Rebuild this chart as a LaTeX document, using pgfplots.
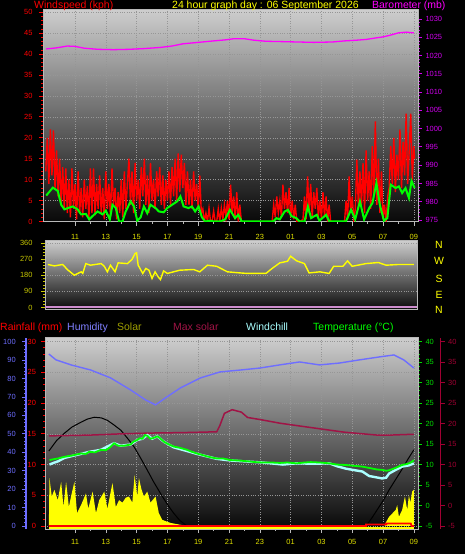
\documentclass[border=0pt]{standalone}
\usepackage{pgfplots}
\pgfplotsset{compat=1.18}
\usepackage{fontspec}
\setmainfont{Liberation Sans}
\definecolor{wred}{RGB}{255,0,0}
\definecolor{wgreen}{RGB}{0,255,0}
\definecolor{wmag}{RGB}{255,0,255}
\definecolor{wmagtick}{RGB}{210,0,240}
\definecolor{wyel}{RGB}{255,255,0}
\definecolor{xlab}{RGB}{225,225,0}
\definecolor{dirlab}{RGB}{200,200,0}
\definecolor{humblue}{RGB}{110,110,255}
\definecolor{humlab}{RGB}{128,128,255}
\definecolor{solarlab}{RGB}{160,160,0}
\definecolor{maxsol}{RGB}{160,20,70}
\definecolor{maroonax}{RGB}{160,0,50}
\definecolor{chill}{RGB}{170,255,255}
\definecolor{tgreen}{RGB}{0,220,0}
\definecolor{framegray}{RGB}{185,185,185}
\definecolor{gridgray}{RGB}{150,150,150}
\definecolor{lav}{RGB}{205,140,205}
\definecolor{bgtop}{RGB}{205,205,205}
\definecolor{bgbot}{RGB}{8,8,8}
\pgfplotsset{
  base/.style={scale only axis, anchor=south west,
    /pgf/number format/assume math mode=true,
    /pgf/number format/1000 sep={},
    tick label style={font=\fontsize{7.5}{8}\selectfont},
    tick align=outside,
    major tick length=4bp, minor tick length=2bp,
    axis line style={draw=framegray, line width=1bp}},
  xhours/.style={xtick={11,13,...,33}, xticklabels={11,13,15,17,19,21,23,01,03,05,07,09},
    minor x tick num=1, xtick pos=bottom, x tick style={framegray, line width=0.6bp}},
  bg/.style={axis background/.style={shade, top color=bgtop, bottom color=bgbot}},
  grids/.style={grid style={dotted, gridgray, line width=0.4bp}},
}
\begin{document}
\begin{tikzpicture}
\useasboundingbox (0,0) rectangle (465bp,554bp);
\fill[black] (0,0) rectangle (465bp,554bp);
% ---------------- top panel: wind speed ----------------
\begin{axis}[base, bg, grids, xhours, at={(43bp,332bp)}, width=375bp, height=212bp,
  xmin=8.92, xmax=33.27, ymin=-0.12, ymax=50.55,
  xmajorgrids, ymajorgrids,
  xticklabel style={text=xlab, yshift=-5bp},
  ytick={0,5,...,50}, minor y tick num=4, ytick pos=left,
  y tick style={wred, line width=0.8bp}, yticklabel style={text=wred, xshift=-3bp}]
\addplot[wred, line width=1.4bp] coordinates {
(9.1,12) (9.2,20) (9.3,9) (9.4,22) (9.5,11) (9.6,21.8) (9.7,8) (9.8,17)
(9.9,6) (10.0,15) (10.1,4) (10.2,13) (10.3,3)
(10.4,12.7) (10.5,2) (10.6,10) (10.7,1) (10.8,12.7) (10.9,3) (11.0,9)
(11.1,0.5) (11.2,12) (11.3,2) (11.4,8) (11.5,1) (11.6,10) (11.7,3) (11.8,8.5) (11.9,0.5) (12.0,12.7) (12.1,2) (12.2,12.7) (12.3,1.5) (12.4,9) (12.5,3)
(12.6,11) (12.7,2) (12.8,8) (12.9,0.5) (13.0,12) (13.1,3) (13.2,9) (13.3,1) (13.4,12.7) (13.5,4) (13.6,8) (13.7,0.5) (13.8,7) (13.9,2) (14.0,10) (14.1,1) (14.2,12) (14.3,3) (14.4,9) (14.5,15)
(14.6,4) (14.7,12) (14.8,2) (14.9,14) (15.0,5) (15.1,10) (15.2,3) (15.3,13) (15.4,6) (15.5,15) (15.6,4) (15.7,11) (15.8,2) (15.9,14) (16.0,5) (16.1,10) (16.2,3) (16.3,12) (16.4,6) (16.5,13) (16.6,4) (16.7,11) (16.8,3) (16.9,10) (17.0,5) (17.1,12) (17.2,4)
(17.3,13) (17.4,6) (17.5,15) (17.6,5) (17.7,16.3) (17.8,7) (17.9,16) (18.0,8) (18.1,14) (18.2,4) (18.3,12)
(18.4,4) (18.5,10) (18.6,3) (18.7,12) (18.8,5) (18.9,9) (19.0,3) (19.1,11) (19.2,2)
(19.3,3) (19.4,0) (19.5,2) (19.6,0) (19.7,3.2) (19.8,0) (19.9,0) (20.0,2.5) (20.1,0) (20.2,0) (20.3,3) (20.4,0) (20.5,3.2) (20.6,0.5) (20.7,4) (20.8,1) (20.9,5) (21.0,0.5)
(21.1,8.8) (21.2,2) (21.3,6) (21.4,0.5) (21.5,7) (21.6,0) (21.7,4) (21.8,0) (23.8,0)
(23.9,4) (24.0,1) (24.1,6) (24.2,2) (24.3,5) (24.4,1) (24.5,8.8) (24.6,3) (24.7,7) (24.8,2) (24.9,8) (25.0,1) (25.1,5) (25.2,0.5) (25.3,4) (25.4,0)
(25.6,0) (25.8,0.5)
(25.9,6) (26.0,0.5) (26.1,10.8) (26.2,2) (26.3,9) (26.4,1) (26.5,7) (26.6,3) (26.7,8)
(26.8,1) (26.9,5) (27.0,0.5) (27.1,7) (27.2,1) (27.3,6) (27.4,0) (27.5,4) (27.6,0) (28.5,0)
(28.6,5) (28.7,0.5) (28.8,10.8) (28.9,2) (29.0,6) (29.1,0.5) (29.2,3)
(29.3,14.8) (29.4,3) (29.5,12) (29.6,4)
(29.7,14) (29.8,2) (29.9,17) (30.0,5) (30.1,12) (30.2,3) (30.3,18) (30.4,6) (30.5,23.9) (30.6,4) (30.7,15) (30.8,2) (30.9,12)
(31.0,0.5) (31.1,4) (31.2,0) (31.3,6)
(31.4,8) (31.5,18) (31.6,9) (31.7,20) (31.8,7) (31.9,16) (32.0,10) (32.1,22) (32.2,8) (32.3,19) (32.4,11) (32.5,25.8) (32.6,9) (32.7,17) (32.8,25.8) (32.9,10) (33.0,18) (33.05,15)
};
\addplot[wgreen, line width=2bp] coordinates {
(9.13,6.2) (9.56,8.1) (9.88,7.3) (10.1,4.0) (10.31,2.9) (10.53,3.2) (10.85,3.6) (11.17,2.9) (11.39,1.7) (11.71,1.8) (11.92,0.5) (12.14,1.3) (12.46,2.4) (12.79,1.7) (13.0,2.6) (13.26,0.5) (13.43,4.0) (13.65,3.2) (13.86,0) (14.08,0) (14.29,2.4) (14.61,4.8) (14.83,3.6) (15.04,0.2) (15.26,1.0) (15.47,3.6) (15.69,2.0) (15.9,4.0) (16.23,3.2) (16.44,2.4) (16.76,2.2) (16.98,3.2) (17.3,4.0) (17.63,4.8) (17.84,6.0) (18.05,3.6) (18.37,3.2) (18.59,3.6) (18.8,2.4) (19.02,3.6) (19.24,1.0) (19.45,0) (19.77,0.2) (19.99,0) (20.42,0) (20.74,0.5) (21.06,2.8) (21.39,0.8) (21.6,1.6) (21.82,0) (23.86,0) (24.08,0.8) (24.29,0.5) (24.61,2.4) (24.83,2.8) (25.05,1.3) (25.37,0.8) (25.58,0) (25.9,0) (26.12,3.6) (26.33,0.8) (26.55,1.3) (26.7,1.6) (26.87,0.2) (27.3,1.6) (27.52,0) (28.59,0) (28.92,2.8) (29.19,0.5) (29.5,4.8) (29.77,0.5) (30.1,3.2) (30.31,4.4) (30.57,9.2) (30.79,4.0) (31.06,0.2) (31.28,0.8) (31.5,8.8) (31.82,8.0) (32.03,8.4) (32.24,6.8) (32.46,8.0) (32.68,5.6) (32.85,9.7) (33.05,8.0)
};
\end{axis}
\begin{axis}[base, at={(43bp,332bp)}, width=375bp, height=212bp,
  xmin=8.92, xmax=33.27, ymin=974.45, ymax=1032.46,
  axis x line=none, axis y line*=right,
  ytick={975,980,...,1030}, minor y tick num=4,
  y tick style={wmagtick, line width=0.8bp}, yticklabel style={text=wmagtick}]
\addplot[wmag, line width=1.3bp] coordinates {
(9.13,1021.8) (9.8,1022.1) (10.5,1022.6) (11.0,1022.5) (11.6,1022.0) (12.5,1021.7) (13.5,1021.6) (14.5,1021.7) (15.5,1021.9) (16.5,1022.2) (17.3,1022.6) (18.0,1023.2) (19.0,1023.6) (20.0,1024.0) (20.8,1024.3) (21.3,1024.6) (22.0,1024.6) (22.6,1024.2) (23.4,1023.9) (24.5,1023.8) (25.5,1023.7) (26.5,1023.6) (27.7,1023.7) (28.5,1024.0) (29.3,1024.2) (29.9,1024.4) (30.5,1024.8) (31.0,1025.1) (31.5,1025.6) (32.0,1026.2) (32.5,1026.4) (33.0,1026.2)
};
\end{axis}
% ---------------- middle panel: wind direction ----------------
\begin{axis}[base, bg, grids, at={(45bp,244bp)}, width=372bp, height=69bp,
  xmin=9.05, xmax=33.21, ymin=-14, ymax=371, xtick=\empty,
  ytick={0,90,...,360}, minor y tick num=4, ytick pos=left, ymajorgrids,
  y tick style={dirlab, line width=0.8bp}, yticklabel style={text=dirlab, xshift=-5bp}]
\addplot[lav, line width=2bp] coordinates {(9.05,0) (33.21,0)};
\addplot[wyel, line width=1.4bp] coordinates {
(9.24,240) (9.66,232) (10.2,240) (10.5,212) (10.95,180) (11.4,199) (11.5,190) (11.7,245) (12.0,236) (12.7,245) (12.9,230) (13.1,199) (13.3,236) (13.6,199) (13.8,249) (14.4,245) (14.7,268) (14.9,301) (15.0,305) (15.1,236) (15.4,190) (15.6,218) (15.8,208) (16.0,162) (16.2,199) (16.4,171) (16.55,156) (16.75,204) (17.0,190) (17.8,208) (18.7,212) (19.1,199) (19.6,236) (20.2,230) (20.9,199) (21.7,193) (22.2,190) (23.4,190) (23.8,218) (24.3,249) (24.8,258) (25.0,286) (25.4,260) (25.9,245) (26.2,193) (26.9,199) (27.5,190) (27.8,230) (28.4,230) (28.7,260) (29.0,230) (29.9,245) (30.7,251) (31.2,236) (32.0,240) (33.0,240)
};
\end{axis}
% ---------------- bottom panel ----------------
\begin{axis}[base, bg, grids, xhours, at={(45bp,25bp)}, width=373bp, height=191bp,
  xmin=9.05, xmax=33.27, ymin=-0.49, ymax=30.6,
  xmajorgrids, ymajorgrids,
  xticklabel style={text=xlab, yshift=-3bp},
  ytick={0,5,...,30}, minor y tick num=4, ytick pos=left,
  y tick style={wred, line width=0.8bp}, yticklabel style={text=wred, xshift=-1.5bp}]
\addplot[fill=wyel, draw=none] coordinates {
(9.3,0) (9.34,7.8) (9.49,4.8) (9.66,5.9) (9.88,4.2) (10.1,7.2) (10.25,3.1) (10.42,7.2) (10.6,3.1) (10.74,4.8) (10.96,7.2) (11.13,2.1) (11.39,3.4) (11.71,5.3) (11.86,2.8) (12.14,5.6) (12.36,2.1) (12.57,4.2) (12.9,5.6) (13.1,2.8) (13.43,7.0) (13.65,3.1) (13.86,4.2) (14.08,3.8) (14.29,4.6) (14.5,4.8) (14.72,3.8) (14.87,8.3) (15.04,4.8) (15.15,7.8) (15.3,6.1) (15.47,4.8) (15.69,5.6) (15.9,3.8) (16.23,4.8) (16.44,2.1) (16.66,1.0) (17.2,0.5) (17.84,0.2) (18.27,0)
};
\addplot[fill=wyel, draw=none] coordinates {
(31.1,0) (31.17,0.5) (31.39,1.5) (31.82,2.6) (31.92,3.4) (32.03,1.5) (32.24,2.6) (32.42,4.8) (32.57,2.6) (32.68,5.0) (32.78,3.8) (32.89,5.6) (33.0,5.9) (33.0,0)
};
\addplot[wyel, line width=1.5bp] coordinates {(9.3,-0.3) (33.0,-0.3)};
\addplot[black, line width=1bp] coordinates {
(9.3,12.2) (9.8,13.9) (10.31,15.1) (10.8,16.1) (11.39,16.9) (11.8,17.4) (12.25,17.7) (12.7,17.6) (13.1,17.2) (13.5,16.5) (13.97,15.6) (14.4,14.3) (14.83,12.9) (15.25,11.1) (15.69,9.1) (16.1,7.2) (16.55,5.3) (17.0,3.5) (17.4,2.1) (17.8,0.9) (18.27,0) (29.9,0) (30.3,1.4) (30.74,3.1) (31.0,4.1) (31.4,5.9) (31.8,7.5) (32.2,9.1) (32.6,10.8) (33.0,12.4)
};
\addplot[wred, line width=1.8bp] coordinates {
(9.3,0) (29.9,0) (29.9,0.25) (31.2,0.25) (31.2,0.4) (32.8,0.4) (32.85,0) (33.0,0)
};
\end{axis}
\begin{axis}[base, hide axis, at={(45bp,25bp)}, width=373bp, height=191bp,
  xmin=9.05, xmax=33.27, ymin=-1.63, ymax=102]
\addplot[humblue, line width=1.4bp] coordinates {
(9.3,93.3) (9.77,90.1) (10.74,87.4) (12.03,84.6) (13.32,80.3) (14.61,73.8) (15.58,68.4) (16.23,65.7) (16.87,69.5) (17.84,74.9) (19.13,80.3) (20.42,83.6) (21.71,84.6) (23.0,85.7) (24.29,87.4) (25.58,89.0) (26.87,87.4) (28.16,88.4) (29.45,90.1) (30.74,91.7) (31.71,92.8) (32.35,90.1) (33.0,85.7)
};
\end{axis}
\begin{axis}[base, at={(45bp,25bp)}, width=373bp, height=191bp,
  xmin=9.05, xmax=33.27, ymin=-5.73, ymax=40.9,
  axis x line=none, axis y line*=right,
  ytick={-5,0,...,40}, minor y tick num=4,
  y tick style={tgreen, line width=0.8bp}, yticklabel style={text=tgreen}]
\addplot[maxsol, line width=1.5bp] coordinates {
(9.3,17.0) (12,17.2) (14,17.5) (16,17.7) (18,17.8) (20.2,18.0) (20.4,19.5) (20.7,22.5) (21.2,23.4) (21.8,22.8) (22.2,21.5) (23,21.0) (24.3,20.1) (26,19.2) (28.5,17.9) (30.6,17.2) (31.5,17.2) (33,17.4)
};
\addplot[chill, line width=2.4bp] coordinates {
(9.34,10.0) (9.6,10.4) (9.9,10.8) (10.3,11.6) (10.6,11.9) (11.39,12.6) (11.92,13.1) (12.68,13.6) (13.54,15.2) (13.97,14.6) (14.61,14.9) (15.04,16.0) (15.37,16.3) (15.69,17.2) (16.01,16.3) (16.34,16.9) (16.76,15.6) (17.41,14.2) (18.27,13.3) (18.92,12.6) (19.56,12.0) (20.2,11.4) (21.06,11.0) (23.2,10.5) (24.5,10.0) (25.37,10.3) (26.5,10.2) (27.52,10.3) (28.0,9.6) (28.59,9.0) (29.2,8.6) (29.66,8.3) (30.1,7.2) (30.4,7.0) (30.95,6.6) (31.2,6.8) (31.39,7.8) (31.82,8.7) (32.24,9.5) (32.68,9.8) (33.0,10.3)
};
\addplot[wgreen, line width=1.8bp] coordinates {
(9.34,11.1) (9.6,11.3) (9.9,11.5) (10.31,11.9) (10.8,12.2) (11.39,12.7) (11.7,12.6) (11.92,13.1) (12.3,13.0) (12.68,13.6) (13.0,13.5) (13.3,14.3) (13.54,15.2) (13.8,14.6) (14.2,14.6) (14.61,14.9) (14.8,15.6) (15.04,16.0) (15.2,16.4) (15.37,16.3) (15.55,17.2) (15.7,17.0) (15.9,16.3) (16.1,16.5) (16.34,16.9) (16.5,16.5) (16.76,15.6) (17.1,14.9) (17.41,14.4) (17.8,14.1) (18.27,13.6) (18.6,13.1) (18.92,12.7) (19.3,12.3) (19.56,12.0) (19.9,11.7) (20.2,11.5) (20.6,11.5) (21.06,11.1) (21.6,11.0) (22.2,10.8) (22.7,10.6) (23.2,10.5) (23.8,10.5) (24.3,10.4) (24.8,10.5) (25.37,10.3) (25.9,10.5) (26.3,10.6) (26.9,10.5) (27.52,10.3) (28.0,10.0) (28.59,9.9) (29.1,9.7) (29.66,9.5) (30.2,9.1) (30.6,8.8) (30.95,8.7) (31.2,8.5) (31.39,8.6) (31.6,8.9) (31.82,9.2) (32.0,9.5) (32.24,9.9) (32.5,10.1) (32.68,10.3) (32.85,10.6) (33.0,11.1)
};
\end{axis}
% maroon right axis
\begin{axis}[base, at={(439.7bp,25bp)}, width=1bp, height=191bp,
  xmin=0, xmax=1, ymin=-5.73, ymax=40.9,
  axis x line=none, axis y line*=right,
  y axis line style={draw=maroonax, line width=1.2bp},
  ytick={-5,0,...,40},
  y tick style={maroonax, line width=0.8bp}, yticklabel style={text=maroonax}]
\end{axis}
% humidity left axis
\begin{axis}[base, at={(26bp,25bp)}, width=1bp, height=191bp,
  xmin=0, xmax=1, ymin=-1.63, ymax=102,
  axis x line=none, axis y line*=left,
  y axis line style={draw=humblue, line width=1.2bp},
  ytick={0,10,...,100}, minor y tick num=4,
  y tick style={humblue, line width=0.8bp}, yticklabel style={text=humblue, xshift=-2.8bp}]
\end{axis}
% ---------------- header texts ----------------
\begin{scope}[every node/.style={inner sep=0pt, anchor=base west, font=\fontsize{10.5}{12}\selectfont}]
\node[text=wred] at (34bp,545bp) {Windspeed (kph)};
\node[text=wyel] at (172bp,545bp) {24 hour graph day : 06 September 2026};
\node[text=wmag] at (372bp,545bp) {Barometer (mb)};
\node[text=wred] at (0bp,223.5bp) {Rainfall (mm)};
\node[text=humlab] at (67bp,223.5bp) {Humidity};
\node[text=solarlab] at (117bp,223.5bp) {Solar};
\node[text=maxsol] at (173bp,223.5bp) {Max solar};
\node[text=chill] at (246bp,223.5bp) {Windchill};
\node[text=wgreen] at (313bp,223.5bp) {Temperature (°C)};
\end{scope}
\begin{scope}[every node/.style={inner sep=0pt, anchor=center, text=wyel, font=\fontsize{10.5}{12}\selectfont}]
\node at (439bp,309bp) {N};
\node at (439bp,293bp) {W};
\node at (439bp,275bp) {S};
\node at (439bp,259bp) {E};
\node at (439bp,244bp) {N};
\end{scope}
\end{tikzpicture}
\end{document}
